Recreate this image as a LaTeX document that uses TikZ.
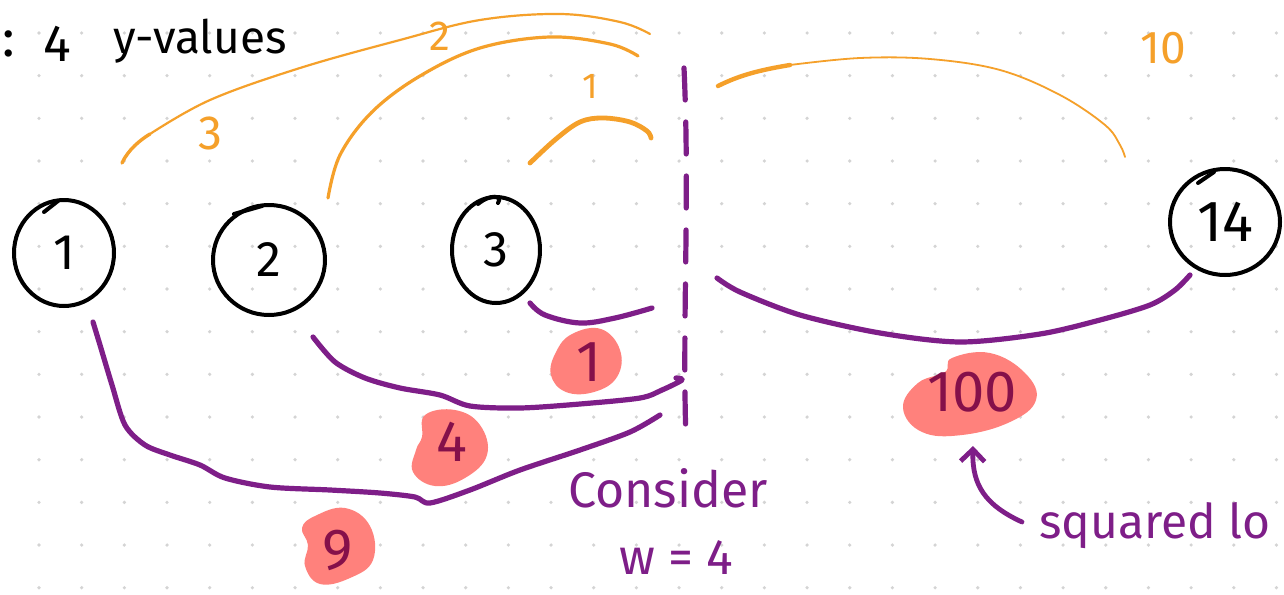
\documentclass[tikz,border=0pt]{standalone}
\usepackage{fontspec}
\setmainfont{Fira Sans}
\usetikzlibrary{shapes.geometric,arrows.meta}
\definecolor{orng}{HTML}{F5A02A}
\definecolor{purp}{HTML}{7E1E88}
\definecolor{blobc}{HTML}{FF817C}
\definecolor{maroon}{HTML}{85104A}
\definecolor{dotc}{HTML}{D4D4D4}
\tikzset{
  numnode/.style={ellipse, draw=black, line width=2pt, inner sep=0pt, font=\fontsize{25pt}{30pt}\selectfont},
  orarc/.style={draw=orng, line width=1.1pt, line cap=round},
  puarc/.style={draw=purp, line width=2.6pt, line cap=round, line join=round},
  blobfill/.style={fill=blobc},
  bloblabel/.style={text=maroon, font=\fontsize{29pt}{34pt}\selectfont},
  orlabel/.style={text=orng},
  hand/.style={text=purp, font=\fontsize{25pt}{30pt}\selectfont},
}
\begin{document}
\begin{tikzpicture}[x=0.5pt,y=-0.5pt]
\useasboundingbox (0,0) rectangle (1284,594);
\clip (0,0) rectangle (1284,594);
\fill[white] (0,0) rectangle (1284,594);
% dot grid
\foreach \i in {0,...,29} {
  \foreach \j in {0,...,13} {
    \fill[dotc] ({39+42.67*\i},{33+42.67*\j}) circle (1.8);
  }
}
% title
\node[font=\fontsize{26pt}{30pt}\selectfont] (colon) at (9,44) {:};
\node[font=\fontsize{26pt}{30pt}\selectfont] (four) at (57,44) {4};
\node[font=\fontsize{23pt}{28pt}\selectfont, anchor=base west] (yv) at (106,54) {y-values};
% nodes
\node[numnode, minimum width=50pt, minimum height=53pt] (c1) at (64,253) {1};
\node[numnode, minimum width=56pt, minimum height=55pt] (c2) at (269,260) {2};
\node[numnode, minimum width=44pt, minimum height=53pt] (c3) at (496,250) {3};
\node[numnode, minimum width=55pt, minimum height=53pt, font=\fontsize{29pt}{34pt}\selectfont] (c14) at (1225,222) {14};
% pen-start ticks on circles
\draw[line width=2pt, line cap=round] (44,212) -- (58,201);
\draw[line width=2pt, line cap=round] (234,214) -- (262,206);
\draw[line width=2pt, line cap=round] (478,204) .. controls (490,194) and (503,195) .. (498,203);
\draw[line width=2pt, line cap=round] (1198,183) -- (1214,172);
% orange arcs
\coordinate (a3s) at (122,163); \coordinate (a3e) at (650,34);
\coordinate (a2s) at (328,198); \coordinate (a2e) at (640,58);
\coordinate (a1s) at (530,163); \coordinate (a1e) at (651,128);
\coordinate (a10s) at (718,86); \coordinate (a10e) at (1125,157);
\draw[orarc, line width=1.7pt] (a3s) .. controls (128,150) and (140,140) .. (150,134);
\draw[orarc] plot[smooth, tension=0.6] coordinates {(150,134) (210,100) (300,68) (400,40) (480,20) (560,14) (620,22) (650,34)};
\draw[orarc, line width=1.6pt] plot[smooth, tension=0.6] coordinates {(a2s) (340,155) (372,112) (420,76) (480,48) (550,37) (610,44) (638,56)};
\draw[orarc, line width=2.4pt] plot[smooth, tension=0.6] coordinates {(a1s) (556,139) (580,122) (603,118) (630,122) (647,131) (651,138)};
\draw[orarc, line width=2.2pt] (a10s) .. controls (740,75) and (760,70) .. (790,65);
\draw[orarc, line width=0.9pt] plot[smooth, tension=0.6] coordinates {(790,65) (860,58) (930,59) (1000,70) (1060,95) (1105,125) (1120,145) (a10e)};
\node[orlabel, font=\fontsize{24pt}{28pt}\selectfont] (l3) at (210,133) {3};
\node[orlabel, font=\fontsize{21pt}{26pt}\selectfont] (l2) at (440,36) {2};
\node[orlabel, font=\fontsize{18pt}{22pt}\selectfont] (l1) at (590,86) {1};
\node[orlabel, font=\fontsize{23pt}{28pt}\selectfont] (l10) at (1163,48) {10};
% dashed divider
\coordinate (dtop) at (684,68); \coordinate (dbot) at (686,440);
\draw[draw=purp, line width=2.6pt, line cap=round, dash pattern=on 16pt off 11pt] (dtop) .. controls (690,200) and (682,320) .. (dbot);
% blobs
\fill[blobc] plot[smooth cycle, tension=0.7] coordinates {(572,334) (601,329) (620,350) (617,377) (594,392) (566,392) (551,375) (556,352)};
\fill[blobc] plot[smooth cycle, tension=0.7] coordinates {(425,415) (455,410) (480,425) (487,455) (465,478) (435,486) (413,472) (416,450) (422,437)};
\fill[blobc] plot[smooth cycle, tension=0.7] coordinates {(315,516) (345,508) (370,526) (373,560) (350,578) (320,584) (305,566) (308,545) (302,528)};
\fill[blobc] plot[smooth cycle, tension=0.7] coordinates {(952,358) (990,353) (1025,373) (1036,400) (1010,422) (962,435) (922,432) (903,408) (918,383) (945,372)};
% purple curves
\coordinate (p3s) at (530,303); \coordinate (p3e) at (652,308);
\coordinate (p2s) at (313,337); \coordinate (p2e) at (682,380);
\coordinate (p1s) at (93,322); \coordinate (p1e) at (660,415);
\coordinate (p14s) at (717,278); \coordinate (p14e) at (1190,275);
\draw[puarc] plot[smooth, tension=0.6] coordinates {(p3s) (545,315) (580,323) (615,318) (p3e)};
\draw[puarc] plot[smooth, tension=0.5] coordinates {(p2s) (335,362) (365,378) (400,388) (440,395) (470,406) (520,408) (580,404) (640,398) (662,390) (p2e) (676,378)};
\draw[puarc] plot[smooth, tension=0.5] coordinates {(p1s) (100,345) (112,385) (125,425) (145,445) (170,455) (200,465) (225,478) (270,487) (330,490) (380,493) (415,497) (430,503) (470,490) (520,470) (580,450) (630,432) (p1e)};
\draw[puarc] plot[smooth, tension=0.5] coordinates {(p14s) (740,292) (800,315) (880,333) (960,342) (1040,334) (1100,320) (1150,305) (1175,290) (p14e)};
% blob labels
\node[bloblabel] (v1) at (589,362) {1};
\node[bloblabel] (v4) at (452,442) {4};
\node[bloblabel] (v9) at (338,550) {9};
\node[bloblabel] (v100) at (972,392) {100};
% annotations
\node[hand] (cons) at (668,488) {Consider};
\node[hand] (wval) at (676,558) {w = 4};
\node[hand, anchor=base west, font=\fontsize{24pt}{28pt}\selectfont] (sq) at (1032,538) {squared lo};
\coordinate (arrs) at (1022,522);
\coordinate (arre) at (973,446);
\draw[draw=purp, line width=2.4pt, line cap=round, -{Straight Barb[length=6pt,width=12pt]}] (arrs) .. controls (985,505) and (972,485) .. (arre);
\end{tikzpicture}
\end{document}
